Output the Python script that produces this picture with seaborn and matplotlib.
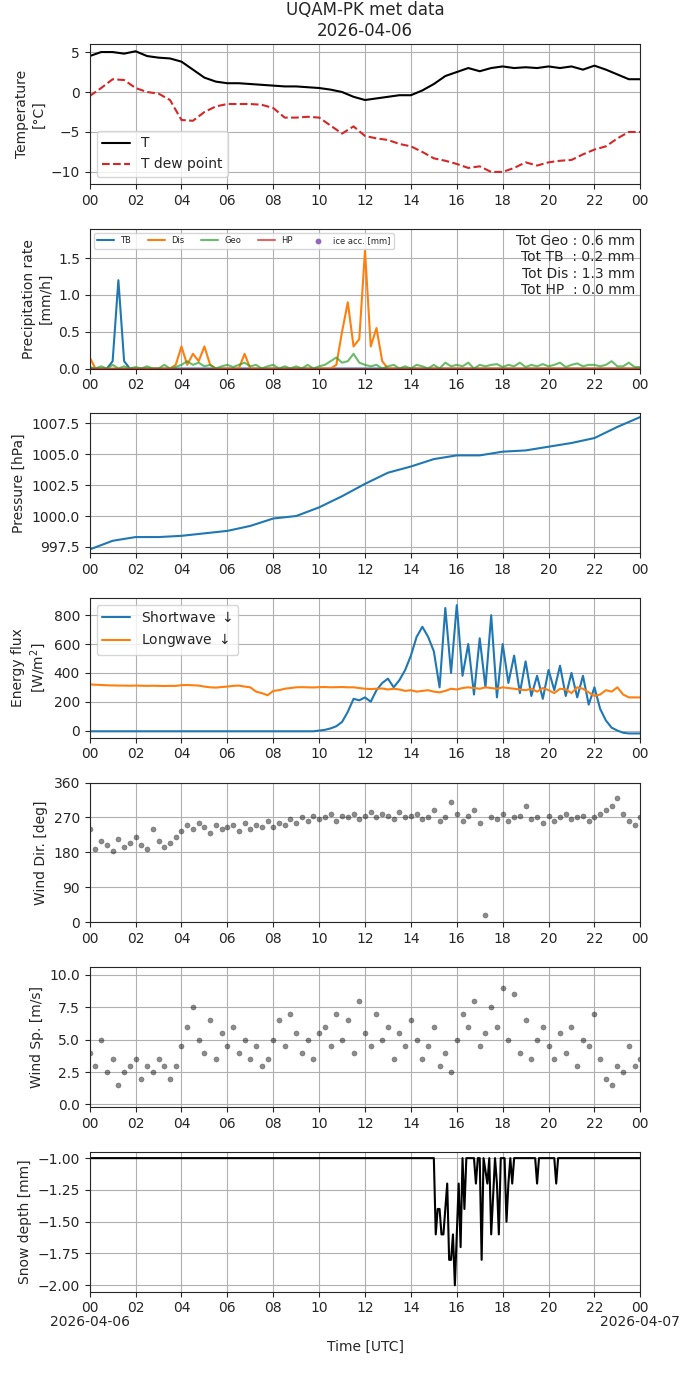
import sys
import pandas as pd
import seaborn as sns
import matplotlib.pyplot as plt
import matplotlib.dates as mdates

sns.set_style("ticks")

day = pd.Timestamp("2026-04-06")

# temperature, every 30 min
t_temp = pd.date_range(day, periods=49, freq="30min")
temp = [4.5, 5.0, 5.0, 4.8, 5.1, 4.5, 4.3, 4.2, 3.8, 2.8, 1.8, 1.3, 1.1, 1.1, 1.0, 0.9, 0.8,
        0.7, 0.7, 0.6, 0.5, 0.3, 0.0, -0.6, -1.0, -0.8, -0.6, -0.4, -0.4, 0.2, 1.0, 2.0, 2.5,
        3.0, 2.6, 3.0, 3.2, 3.0, 3.1, 3.0, 3.2, 3.0, 3.2, 2.8, 3.3, 2.8, 2.2, 1.6, 1.6]
dew = [-0.5, 0.5, 1.6, 1.5, 0.5, 0.0, -0.2, -1.0, -3.5, -3.6, -2.5, -1.8, -1.5, -1.5, -1.5,
       -1.6, -2.0, -3.2, -3.2, -3.1, -3.2, -4.2, -5.2, -4.3, -5.5, -5.8, -6.0, -6.5, -6.8,
       -7.5, -8.3, -8.6, -9.0, -9.5, -9.3, -10.0, -10.0, -9.5, -8.8, -9.2, -8.8, -8.6, -8.5,
       -7.8, -7.2, -6.8, -5.8, -5.0, -5.0]

# precipitation rate, every 15 min
t_q = pd.date_range(day, periods=97, freq="15min")
tb = [0]*97
tb[4] = 0.1; tb[5] = 1.2; tb[6] = 0.1
dis = [0.15, 0, 0, 0, 0, 0, 0, 0, 0, 0, 0, 0, 0, 0, 0, 0.05,
       0.3, 0.05, 0.2, 0.1, 0.3, 0.05, 0, 0, 0, 0, 0, 0.2, 0, 0, 0, 0,
       0, 0, 0, 0, 0, 0, 0, 0, 0, 0, 0, 0.05, 0.5, 0.9, 0.3, 0.4, 1.6,
       0.3, 0.55, 0.1, 0, 0, 0, 0, 0, 0, 0, 0, 0, 0, 0, 0, 0,
       0, 0, 0, 0, 0, 0, 0, 0, 0, 0, 0, 0, 0, 0, 0, 0,
       0, 0, 0, 0, 0, 0, 0, 0, 0, 0, 0, 0, 0, 0, 0, 0, 0]
geo = [0.02, 0, 0.03, 0, 0.05, 0, 0.03, 0, 0.02, 0, 0.03, 0, 0, 0.05, 0, 0.02,
       0.05, 0.1, 0.05, 0.08, 0.03, 0.05, 0, 0.03, 0.05, 0.02, 0.05, 0.08, 0.03, 0.05, 0, 0.03,
       0.05, 0, 0.03, 0, 0.03, 0, 0.05, 0, 0.03, 0.05, 0.1, 0.15, 0.08, 0.1, 0.2, 0.08,
       0.05, 0.03, 0.05, 0, 0.03, 0.05, 0, 0.03, 0, 0.05, 0.03, 0, 0.05, 0, 0.08, 0.03,
       0.05, 0.03, 0.08, 0, 0.05, 0.03, 0.05, 0.06, 0.02, 0.05, 0.03, 0.08, 0.02, 0.05, 0.03, 0.06,
       0.03, 0.05, 0.08, 0.02, 0.05, 0.07, 0.03, 0.05, 0.05, 0.03, 0.05, 0.1, 0.03, 0.03, 0.08, 0.02, 0.02]

# pressure, hourly
t_hr = pd.date_range(day, periods=25, freq="1h")
pres = [997.3, 998.0, 998.3, 998.3, 998.4, 998.6, 998.8, 999.2, 999.8, 1000.0, 1000.7,
        1001.6, 1002.6, 1003.5, 1004.0, 1004.6, 1004.9, 1004.9, 1005.2, 1005.3, 1005.6,
        1005.9, 1006.3, 1007.2, 1008.0]

# radiation, every 15 min
sw = [-5]*40 + [0, 5, 15, 30, 60, 130, 220, 210, 230, 200, 280, 330, 360, 300, 350, 420,
                520, 650, 720, 650, 550, 300, 850, 400, 870, 380, 600, 250, 640, 300, 800, 230,
                600, 330, 520, 260, 480, 240, 380, 220, 420, 280, 450, 240, 400, 230, 380, 180,
                300, 150, 70, 20, 0, -15, -20, -20]
lw = [320, 318, 316, 314, 313, 312, 312, 311, 312, 311, 310, 311, 310, 309, 310, 310,
      315, 316, 314, 312, 305, 300, 298, 302, 305, 310, 312, 305, 300, 270, 260, 245,
      275, 280, 290, 295, 300, 301, 300, 299, 301, 302, 300, 301, 302, 300, 300, 295,
      290, 288, 290, 292, 285, 290, 285, 275, 280, 270, 275, 280, 270, 265, 275, 290,
      285, 295, 300, 295, 290, 300, 295, 290, 300, 295, 290, 285, 280, 290, 270, 295,
      280, 260, 290, 285, 260, 300, 290, 265, 240, 250, 280, 270, 300, 250, 230, 230, 230]

# wind, every 15 min
wdir = [240, 190, 210, 200, 185, 215, 195, 205, 220, 200, 190, 240, 210, 195, 205, 220,
        235, 250, 240, 255, 245, 230, 250, 240, 245, 250, 235, 255, 240, 250, 245, 260,
        245, 255, 250, 265, 255, 270, 260, 275, 265, 270, 280, 260, 275, 270, 280, 265,
        275, 285, 270, 280, 275, 265, 285, 270, 275, 280, 265, 270, 290, 260, 270, 310,
        280, 260, 275, 290, 255, 20, 270, 265, 280, 260, 270, 275, 300, 265, 270, 255,
        275, 260, 270, 280, 265, 270, 275, 260, 270, 280, 290, 300, 320, 280, 260, 250, 270]
wspd = [4.0, 3.0, 5.0, 2.5, 3.5, 1.5, 2.5, 3.0, 3.5, 2.0, 3.0, 2.5, 3.5, 3.0, 2.0, 3.0,
        4.5, 6.0, 7.5, 5.0, 4.0, 6.5, 3.5, 5.5, 4.5, 6.0, 4.0, 5.0, 3.5, 4.5, 3.0, 3.5,
        5.0, 6.5, 4.5, 7.0, 5.5, 4.0, 5.0, 3.5, 5.5, 6.0, 4.5, 7.0, 5.0, 6.5, 4.0, 8.0,
        5.5, 4.5, 7.0, 5.0, 6.0, 3.5, 5.5, 4.5, 6.5, 5.0, 3.5, 4.5, 6.0, 3.0, 4.0, 2.5,
        5.0, 7.0, 6.0, 8.0, 4.5, 5.5, 7.5, 6.0, 9.0, 5.0, 8.5, 4.0, 6.5, 3.5, 5.0, 6.0,
        4.5, 3.5, 5.5, 4.0, 6.0, 3.0, 5.0, 4.5, 7.0, 3.5, 2.0, 1.5, 3.0, 2.5, 4.5, 3.0, 3.5]

# snow depth, every 5 min from 15:00, -1 otherwise
snow = [-1.0, -1.6, -1.4, -1.4, -1.6, -1.6, -1.4, -1.2, -1.8, -1.8, -1.6, -2.0, -1.6,
        -1.2, -1.7, -1.0, -1.4, -1.0, -1.0, -1.0, -1.0, -1.0, -1.2, -1.0, -1.0, -1.8, -1.0,
        -1.1, -1.2, -1.0, -1.6, -1.3, -1.0, -1.2, -1.6, -1.0, -1.0, -1.0, -1.5, -1.2,
        -1.0, -1.2, -1.0, -1.0, -1.0, -1.0, -1.0, -1.0, -1.0, -1.0, -1.0, -1.0, -1.0,
        -1.0, -1.2, -1.0, -1.0, -1.0, -1.0, -1.0, -1.0, -1.0, -1.0, -1.0, -1.2, -1.0, -1.0]
t_sn = pd.date_range(day + pd.Timedelta("15h"), periods=len(snow), freq="5min")

for name, v in [("temp", temp), ("dew", dew), ("dis", dis), ("geo", geo), ("pres", pres),
                ("sw", sw), ("lw", lw), ("wdir", wdir), ("wspd", wspd), ("snow", snow)]:
    print(name, len(v), file=sys.stderr)


def q_series(values):
    # 15-min series, padded with the last value if short
    vals = list(values)[:97]
    vals += [vals[-1]] * (97 - len(vals))
    return pd.DataFrame({"time": t_q, "v": vals})


t_sn_full = [day] + list(t_sn) + [day + pd.Timedelta("24h")]
snow_full = [-1.0] + snow + [-1.0]

fig, axes = plt.subplots(7, 1, figsize=(6.9, 13.77))
fig.subplots_adjust(left=0.13, right=0.928, top=0.968, bottom=0.062, hspace=0.32)

ax = axes[0]
sns.lineplot(x=t_temp, y=temp, ax=ax, color="black", label="T")
sns.lineplot(x=t_temp, y=dew, ax=ax, color="tab:red", linestyle="--", label="T dew point")
ax.set_ylabel("Temperature\n[°C]")
ax.set_ylim(-11.5, 6)
ax.legend(loc="lower left")
ax.set_title("UQAM-PK met data\n2026-04-06")

ax = axes[1]
sns.lineplot(data=q_series(tb), x="time", y="v", ax=ax, color="tab:blue", label="TB")
sns.lineplot(data=q_series(dis), x="time", y="v", ax=ax, color="tab:orange", label="Dis")
sns.lineplot(data=q_series(geo), x="time", y="v", ax=ax, color="tab:green", alpha=0.7, label="Geo")
sns.lineplot(data=q_series([0]), x="time", y="v", ax=ax, color="tab:red", alpha=0.7, label="HP")
ax.scatter([], [], s=10, color="tab:purple", label="ice acc. [mm]")
ax.legend(loc="upper left", ncol=5, fontsize=6)
ax.set_ylim(0, 1.9)
ax.set_ylabel("Precipitation rate\n[mm/h]")
ax.text(0.99, 0.96, "Tot Geo : 0.6 mm\nTot TB  : 0.2 mm\nTot Dis : 1.3 mm\nTot HP  : 0.0 mm",
        transform=ax.transAxes, ha="right", va="top", fontsize=10)

ax = axes[2]
sns.lineplot(x=t_hr, y=pres, ax=ax, color="tab:blue")
ax.set_ylabel("Pressure [hPa]")
ax.set_ylim(997, 1008.3)
ax.set_yticks([997.5, 1000, 1002.5, 1005, 1007.5])

ax = axes[3]
sns.lineplot(data=q_series(sw), x="time", y="v", ax=ax, color="tab:blue", label="Shortwave $\\downarrow$")
sns.lineplot(data=q_series(lw), x="time", y="v", ax=ax, color="tab:orange", label="Longwave $\\downarrow$")
ax.set_ylabel("Energy flux\n[W/m$^2$]")
ax.set_ylim(-50, 920)
ax.legend(loc="upper left")

ax = axes[4]
sns.scatterplot(data=q_series(wdir), x="time", y="v", ax=ax, color="black",
                edgecolor="black", alpha=0.45, s=14)
ax.set_ylim(0, 360)
ax.set_yticks([0, 90, 180, 270, 360])
ax.set_ylabel("Wind Dir. [deg]")

ax = axes[5]
sns.scatterplot(data=q_series(wspd), x="time", y="v", ax=ax, color="black",
                edgecolor="black", alpha=0.45, s=14)
ax.set_ylim(-0.2, 10.6)
ax.set_yticks([0, 2.5, 5, 7.5, 10])
ax.set_ylabel("Wind Sp. [m/s]")

ax = axes[6]
sns.lineplot(x=t_sn_full, y=snow_full, ax=ax, color="black")
ax.set_ylim(-2.05, -0.95)
ax.set_ylabel("Snow depth [mm]")

for ax in axes:
    ax.set_xlim(day, day + pd.Timedelta("24h"))
    ax.xaxis.set_major_locator(mdates.HourLocator(interval=2))
    ax.xaxis.set_major_formatter(mdates.DateFormatter("%H"))
    ax.grid(True, color="#b0b0b0")
    ax.set_xlabel("")

axes[6].set_xlabel("Time [UTC]", labelpad=18)
# dates under the first and last tick of the bottom panel
axes[6].annotate("2026-04-06", xy=(0, 0), xycoords="axes fraction", xytext=(0, -17),
                 textcoords="offset points", ha="center", va="top")
axes[6].annotate("2026-04-07", xy=(1, 0), xycoords="axes fraction", xytext=(0, -17),
                 textcoords="offset points", ha="center", va="top")

plt.savefig("out.png", dpi=100)
